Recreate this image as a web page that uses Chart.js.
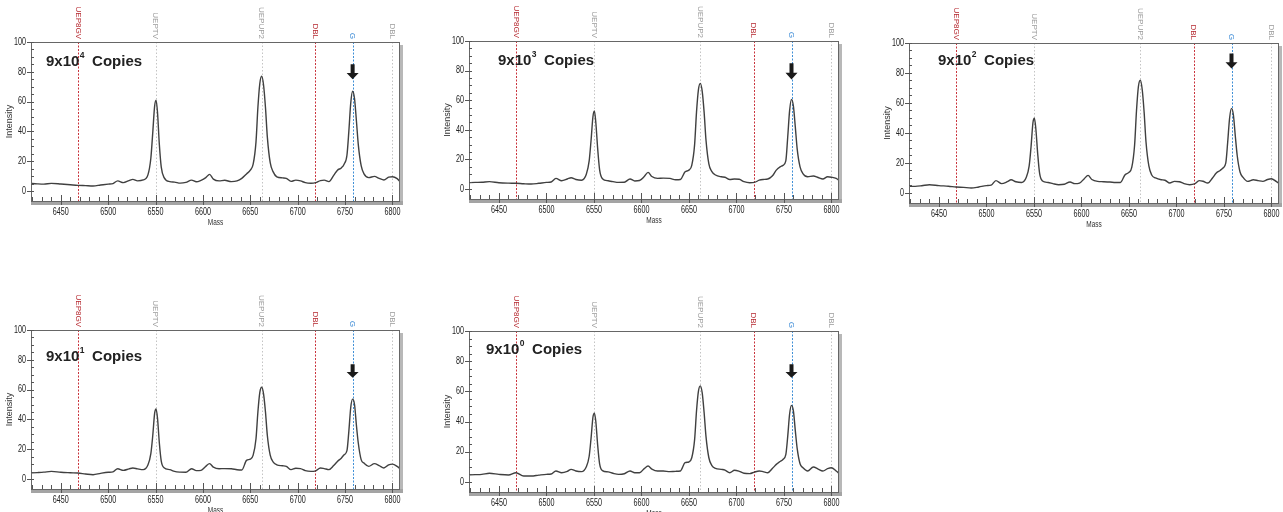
<!DOCTYPE html>
<html>
<head>
<meta charset="utf-8">
<script src="https://cdn.jsdelivr.net/npm/chart.js@4.4.0/dist/chart.umd.min.js"></script>
<style>
  html, body { margin: 0; padding: 0; background: #fff; width: 1283px; height: 512px; overflow: hidden; }
  .panel { position: absolute; }
</style>
</head>
<body>
<script>
// Mass axis sample points (shared by all five spectra)
const mass = [6417, 6425, 6432, 6440, 6450, 6460, 6468, 6476, 6484, 6492, 6500, 6505, 6510, 6516, 6522, 6526, 6531, 6537,
  6542, 6545, 6547, 6549, 6550.5, 6552, 6554, 6556, 6559,
  6565, 6570, 6576, 6582, 6588, 6593, 6598, 6603, 6607, 6611, 6617, 6623, 6630, 6636, 6641,
  6646, 6650, 6653, 6656, 6658, 6660, 6662, 6664, 6666, 6668, 6671, 6674, 6678,
  6684, 6688, 6693, 6698, 6703, 6708, 6714, 6719, 6724, 6728, 6733,
  6738, 6742, 6746, 6749, 6752, 6754, 6756, 6758, 6760, 6762, 6764, 6767, 6770, 6775,
  6781, 6786, 6791, 6796, 6800, 6805, 6809];

const int9e4 = [5.2, 4.8, 4.6, 5.1, 4.7, 4.2, 3.8, 3.6, 3.4, 4.0, 4.6, 5.0, 6.8, 5.6, 7.0, 7.8, 6.8, 7.4,
  11, 22, 39, 57, 61, 53, 31, 16, 9,
  6.3, 6.0, 5.3, 5.8, 7.3, 6.2, 7.2, 9.0, 11.2, 8.0, 6.8, 7.2, 6.3, 6.8, 8.5,
  11.5, 14, 18, 33, 56, 72, 77, 71, 56, 36, 19, 13, 9.5,
  8.8, 8.5, 6.5, 7.3, 6.8, 5.6, 5.2, 5.6, 7.0, 7.3, 6.3,
  10.5, 14, 15.5, 18, 24, 40, 59, 67, 62, 47, 31, 17, 11.5, 9,
  9.8, 8.5, 7.4, 9.3, 9.6, 8.3, 5.6];

const int9e3 = [4.3, 4.5, 4.6, 5.0, 4.3, 4.0, 3.9, 3.6, 3.4, 3.9, 4.5, 4.8, 7.2, 5.6, 6.8, 7.7, 6.5, 6.0,
  10, 19, 33, 49, 52.7, 45, 27, 13, 7,
  5.6, 5.0, 4.5, 4.6, 6.8, 5.5, 5.8, 8.5, 11.3, 8.5, 7.2, 7.4, 7.2, 6.3, 6.5,
  11.7, 12.8, 16, 30, 52, 67, 71.4, 66, 52, 33, 17, 12, 9.5,
  8.3, 8.0, 6.5, 6.8, 6.6, 5.0, 4.3, 4.5, 6.0, 6.5, 6.8,
  9, 12.8, 15, 16, 19, 35, 53, 60.6, 56, 42, 27, 15, 10.5, 8.3,
  8.8, 7.8, 6.8, 8.3, 8.0, 7.2, 5.4];

const int9e2 = [4.4, 4.4, 4.8, 5.5, 4.9, 4.5, 4.0, 3.7, 3.3, 4.0, 4.9, 5.2, 8.2, 6.2, 7.5, 8.8, 7.5, 7.0,
  10.5, 18, 31, 47, 49.8, 43, 26, 13, 8,
  7.0, 6.2, 5.5, 5.8, 7.3, 6.2, 6.6, 9.5, 11.7, 9.0, 7.7, 7.5, 7.3, 7.0, 7.0,
  12.2, 13.7, 17, 32, 55, 71, 75.2, 69, 54, 34, 18, 12, 10,
  8.8, 8.5, 6.6, 7.7, 7.5, 6.2, 5.5, 6.0, 8.2, 7.8, 6.6,
  10, 13.3, 15, 16.6, 20, 34, 50, 56.4, 52, 38, 25, 14, 10.5, 7.7,
  8.8, 8.2, 7.7, 9.0, 9.5, 7.7, 6.0];

const int9e1 = [4.0, 4.3, 4.6, 5.1, 4.5, 4.2, 4.0, 3.4, 2.9, 3.8, 4.5, 4.8, 6.9, 5.8, 6.8, 7.4, 6.8, 6.3,
  9.5, 17, 29, 44, 47, 41, 24, 12, 7.5,
  6.3, 5.1, 4.6, 4.5, 6.9, 5.6, 5.8, 8.5, 10.3, 8.0, 6.9, 7.0, 6.9, 6.2, 6.0,
  12.5, 13.4, 16, 27, 45, 58, 61.6, 57, 45, 29, 16, 11.5, 9.5,
  8.9, 8.5, 6.3, 7.2, 7.0, 5.6, 5.1, 5.5, 7.4, 7.0, 6.3,
  9, 11.8, 14, 16.3, 19, 32, 48, 53.6, 50, 36, 24, 13, 10.7, 8.5,
  10.3, 9.0, 7.4, 9.5, 10, 8.5, 6.3];

const int9e0 = [4.6, 4.8, 5.0, 5.7, 5.0, 4.6, 6.1, 3.9, 3.9, 4.5, 5.0, 5.2, 7.2, 6.1, 7.0, 8.3, 7.2, 6.8,
  10, 17, 29, 43, 45.6, 40, 24, 12, 7.5,
  6.6, 5.7, 5.0, 5.4, 7.2, 6.1, 6.1, 8.8, 10.5, 8.5, 7.2, 7.2, 6.8, 7.0, 7.2,
  12.7, 13.2, 16, 28, 47, 60, 63.6, 59, 46, 30, 16, 11, 9,
  8.3, 7.8, 6.1, 7.7, 7.0, 5.7, 5.5, 6.5, 7.2, 6.8, 6.1,
  9, 11.6, 13.5, 14.9, 18, 30, 45, 50.7, 47, 34, 22, 12, 9.4, 7.2,
  9.9, 8.5, 7.2, 8.8, 9.4, 7.2, 5.0];

const copiesExp = ['4', '3', '2', '1', '0'];

// Assay marker positions and names
const markerMass = [6468, 6550, 6662, 6718, 6758, 6800];
const markerNames = ['UEP8GV', 'UEPTV', 'UEPUP2', 'DBL', 'G', 'DBL'];
const markerKind = ['red', 'grey', 'grey', 'red', 'blue', 'grey'];

// Down arrow above the G peak (intensity units)
const arrowMass = 6758;
const arrowTop = [85, 85, 93, 77, 78];
const arrowBottom = [75, 74, 83, 68, 69];

const xTicks = [6450, 6500, 6550, 6600, 6650, 6700, 6750, 6800];
const yTicks = [0, 20, 40, 60, 80, 100];

const series = [int9e4, int9e3, int9e2, int9e1, int9e0];

// plot-area boxes in page pixels, and where the copies label sits inside
const panels = [
  { L: 31, T: 42, R: 400, B: 201, lx: 15, ly: 20 },
  { L: 469, T: 41, R: 839, B: 199, lx: 29, ly: 20 },
  { L: 909, T: 43, R: 1279, B: 203, lx: 29, ly: 18 },
  { L: 31, T: 330, R: 400, B: 489, lx: 15, ly: 27 },
  { L: 469, T: 331, R: 839, B: 492, lx: 17, ly: 19 },
];
const Y_W = 31, PAD_T = 40, PAD_R = 4, X_H = 32;

const lineColor = { red: '#c9333c', grey: '#c4c4c4', blue: '#3f8fd6' };
const textColor = { red: '#b5262d', grey: '#9a9a9a', blue: '#3a8ad6' };

// condensed text: normal sans squeezed horizontally
function narrowText(ctx, txt, x, y, size, align, squeeze) {
  ctx.save();
  ctx.font = size + 'px "Liberation Sans"';
  ctx.textAlign = align;
  ctx.textBaseline = 'middle';
  ctx.translate(x, y);
  ctx.scale(squeeze, 1);
  ctx.fillText(txt, 0, 0);
  ctx.restore();
}

const decor = {
  id: 'decor',
  beforeDatasetsDraw(chart) {
    const { ctx, chartArea: a, scales: { x } } = chart;
    ctx.save();
    ctx.lineWidth = 1;
    markerMass.forEach((m, i) => {
      const px = Math.round(x.getPixelForValue(m)) + 0.5;
      ctx.strokeStyle = lineColor[markerKind[i]];
      ctx.setLineDash(markerKind[i] === 'grey' ? [1.5, 2] : [2, 1.5]);
      ctx.beginPath();
      ctx.moveTo(px, a.top);
      ctx.lineTo(px, a.bottom);
      ctx.stroke();
    });
    ctx.restore();
  },
  afterDraw(chart) {
    const { ctx, chartArea: a, scales: { x, y } } = chart;
    const p = chart.options.plugins.decor;
    ctx.save();
    // frame + shadow
    ctx.fillStyle = '#b8b8b8';
    ctx.fillRect(a.right, a.top + 3, 3, a.bottom - a.top);
    ctx.fillStyle = '#a4a4a4';
    ctx.fillRect(a.left, a.bottom, a.right - a.left + 3, 4);
    ctx.strokeStyle = '#666';
    ctx.lineWidth = 1;
    ctx.strokeRect(Math.round(a.left) + 0.5, Math.round(a.top) + 0.5, Math.round(a.right - a.left) - 1, Math.round(a.bottom - a.top));

    // x ticks
    ctx.strokeStyle = '#555';
    ctx.beginPath();
    for (let v = 6420; v <= 6808; v += 10) {
      const px = Math.round(x.getPixelForValue(v)) + 0.5;
      if (v % 50 === 0) { ctx.moveTo(px, a.bottom - 6); ctx.lineTo(px, a.bottom + 4); }
      else { ctx.moveTo(px, a.bottom - 4); ctx.lineTo(px, a.bottom); }
    }
    // y ticks
    for (let v = 0; v <= 100; v += 5) {
      const py = Math.round(y.getPixelForValue(v)) + 0.5;
      if (v % 20 === 0) { ctx.moveTo(a.left - 4, py); ctx.lineTo(a.left + 3, py); }
      else { ctx.moveTo(a.left, py); ctx.lineTo(a.left + 3, py); }
    }
    ctx.stroke();

    // tick labels
    ctx.fillStyle = '#222';
    x.ticks.forEach((t) => narrowText(ctx, String(t.value), x.getPixelForValue(t.value), a.bottom + 11, 10, 'center', 0.72));
    y.ticks.forEach((t) => narrowText(ctx, String(t.value), a.left - 5, y.getPixelForValue(t.value), 10, 'right', 0.72));

    // axis titles
    ctx.fillStyle = '#333';
    ctx.font = '9px "Liberation Sans"';
    ctx.textAlign = 'center';
    ctx.textBaseline = 'middle';
    ctx.save();
    ctx.translate(a.left - 21, (a.top + a.bottom) / 2);
    ctx.rotate(-Math.PI / 2);
    ctx.fillText('Intensity', 0, 0);
    ctx.restore();
    narrowText(ctx, 'Mass', (a.left + a.right) / 2, a.bottom + 22, 9, 'center', 0.72);

    // marker names, rotated, above the plot
    ctx.font = '8px "Liberation Sans"';
    ctx.textAlign = 'right';
    markerMass.forEach((m, i) => {
      const px = x.getPixelForValue(m);
      ctx.fillStyle = textColor[markerKind[i]];
      ctx.save();
      ctx.translate(px, a.top - 3);
      ctx.rotate(Math.PI / 2);
      ctx.textBaseline = 'middle';
      ctx.fillText(markerNames[i], 0, 0);
      ctx.restore();
    });

    // arrow
    const ax = x.getPixelForValue(arrowMass);
    const at = y.getPixelForValue(arrowTop[p.index]);
    const ab = y.getPixelForValue(arrowBottom[p.index]);
    const hh = (ab - at) * 0.42;
    ctx.fillStyle = '#1a1a1a';
    ctx.beginPath();
    ctx.moveTo(ax - 2, at);
    ctx.lineTo(ax + 2, at);
    ctx.lineTo(ax + 2, ab - hh);
    ctx.lineTo(ax + 6, ab - hh);
    ctx.lineTo(ax, ab);
    ctx.lineTo(ax - 6, ab - hh);
    ctx.lineTo(ax - 2, ab - hh);
    ctx.closePath();
    ctx.fill();

    // copies label
    const lx = a.left + p.lx, ly = a.top + p.ly;
    ctx.fillStyle = '#222';
    ctx.textAlign = 'left';
    ctx.textBaseline = 'middle';
    ctx.font = 'bold 15px "Liberation Sans"';
    ctx.fillText('9x10', lx, ly);
    const w1 = ctx.measureText('9x10').width;
    ctx.font = 'bold 8.5px "Liberation Sans"';
    ctx.fillText(copiesExp[p.index], lx + w1 + 0.5, ly - 6);
    const w2 = ctx.measureText(copiesExp[p.index]).width;
    ctx.font = 'bold 15px "Liberation Sans"';
    ctx.fillText('Copies', lx + w1 + w2 + 8, ly);
    ctx.restore();
  },
};

panels.forEach((pn, i) => {
  const div = document.createElement('div');
  div.className = 'panel';
  const w = pn.R - pn.L + Y_W + PAD_R;
  const h = pn.B - pn.T + PAD_T + X_H;
  div.style.left = (pn.L - Y_W) + 'px';
  div.style.top = (pn.T - PAD_T) + 'px';
  div.style.width = w + 'px';
  div.style.height = h + 'px';
  const cv = document.createElement('canvas');
  div.appendChild(cv);
  document.body.appendChild(div);

  new Chart(cv, {
    type: 'line',
    data: {
      datasets: [{
        data: mass.map((m, k) => ({ x: m, y: series[i][k] })),
        borderColor: '#404040',
        borderWidth: 1.4,
        pointRadius: 0,
        cubicInterpolationMode: 'monotone',
        fill: false,
      }],
    },
    options: {
      responsive: true,
      maintainAspectRatio: false,
      animation: false,
      events: [],
      layout: { padding: { top: PAD_T, right: PAD_R, left: 0, bottom: 0 } },
      plugins: { legend: { display: false }, tooltip: { enabled: false }, decor: { index: i, lx: pn.lx, ly: pn.ly } },
      scales: {
        x: {
          type: 'linear', min: 6418.5, max: 6808,
          afterBuildTicks: (s) => { s.ticks = xTicks.map((v) => ({ value: v })); },
          afterFit: (s) => { s.height = X_H; },
          grid: { display: false, drawTicks: false },
          border: { display: false },
          ticks: { display: false },
        },
        y: {
          min: -6.7, max: 100,
          afterBuildTicks: (s) => { s.ticks = yTicks.map((v) => ({ value: v })); },
          afterFit: (s) => { s.width = Y_W; },
          grid: { display: false, drawTicks: false },
          border: { display: false },
          ticks: { display: false },
        },
      },
    },
    plugins: [decor],
  });
});
</script>
</body>
</html>
